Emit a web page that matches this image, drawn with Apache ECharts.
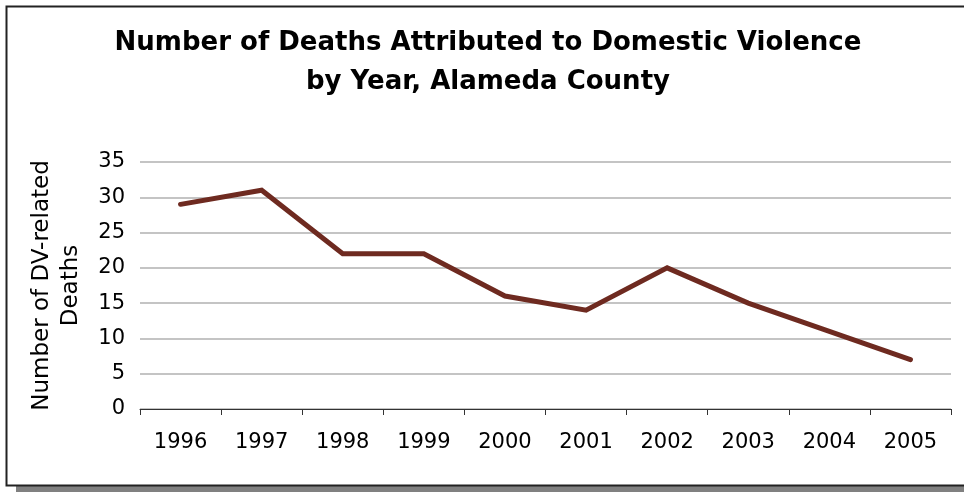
<!DOCTYPE html>
<html><head><meta charset="utf-8">
<script src="https://cdn.jsdelivr.net/npm/echarts@6/dist/echarts.min.js"></script>
<style>html,body{margin:0;padding:0;background:#fff}#c{width:964px;height:492px}</style>
</head><body><div id="c"></div>
<script>
const years = ['1996','1997','1998','1999','2000','2001','2002','2003','2004','2005'];
const deaths = [29, 31, 22, 22, 16, 14, 20, 15, 11, 7];
const titleText = 'Number of Deaths Attributed to Domestic Violence\nby Year, Alameda County';
const yAxisName = 'Number of DV-related\nDeaths';

const chart = echarts.init(document.getElementById('c'));
chart.setOption({
  animation: false,
  graphic: [
    {type:'rect', shape:{x:16, y:486, width:960, height:8}, style:{fill:'#808080'}, z:-2},
    {type:'rect', shape:{x:6.5, y:6.5, width:970, height:479}, style:{fill:'#fff', stroke:'#222', lineWidth:2}, z:-1}
  ],
  title: {
    text: titleText, left: 483, top: 19, textAlign: 'center',
    textStyle: {fontFamily:'DejaVu Sans', fontWeight:'bold', fontSize:26, lineHeight:39, color:'#000'}
  },
  grid: {left:140, right:13, top:162, bottom:83, outerBoundsMode:'none', containLabel:false},
  xAxis: {
    type:'category', data: years, boundaryGap:true,
    axisLine:{lineStyle:{color:'#333', width:1}},
    axisTick:{show:true, length:6, lineStyle:{color:'#333'}},
    axisLabel:{fontFamily:'DejaVu Sans', fontSize:21, color:'#000', margin:23}
  },
  yAxis: {
    type:'value', min:0, max:35, interval:5,
    name: yAxisName, nameLocation:'middle', nameGap:54, nameRotate:90, nameMoveOverlap:false,
    nameTextStyle:{fontFamily:'DejaVu Sans', fontSize:23, color:'#000', lineHeight:29},
    axisLine:{show:false}, axisTick:{show:false},
    axisLabel:{fontFamily:'DejaVu Sans', fontSize:21, color:'#000', margin:15},
    splitLine:{lineStyle:{color:'#c4c4c4', width:2}}
  },
  series: [{
    type:'line', data: deaths, symbol:'none',
    lineStyle:{color:'#6e2a20', width:5, cap:'round', join:'miter'}
  }]
});
</script></body></html>
